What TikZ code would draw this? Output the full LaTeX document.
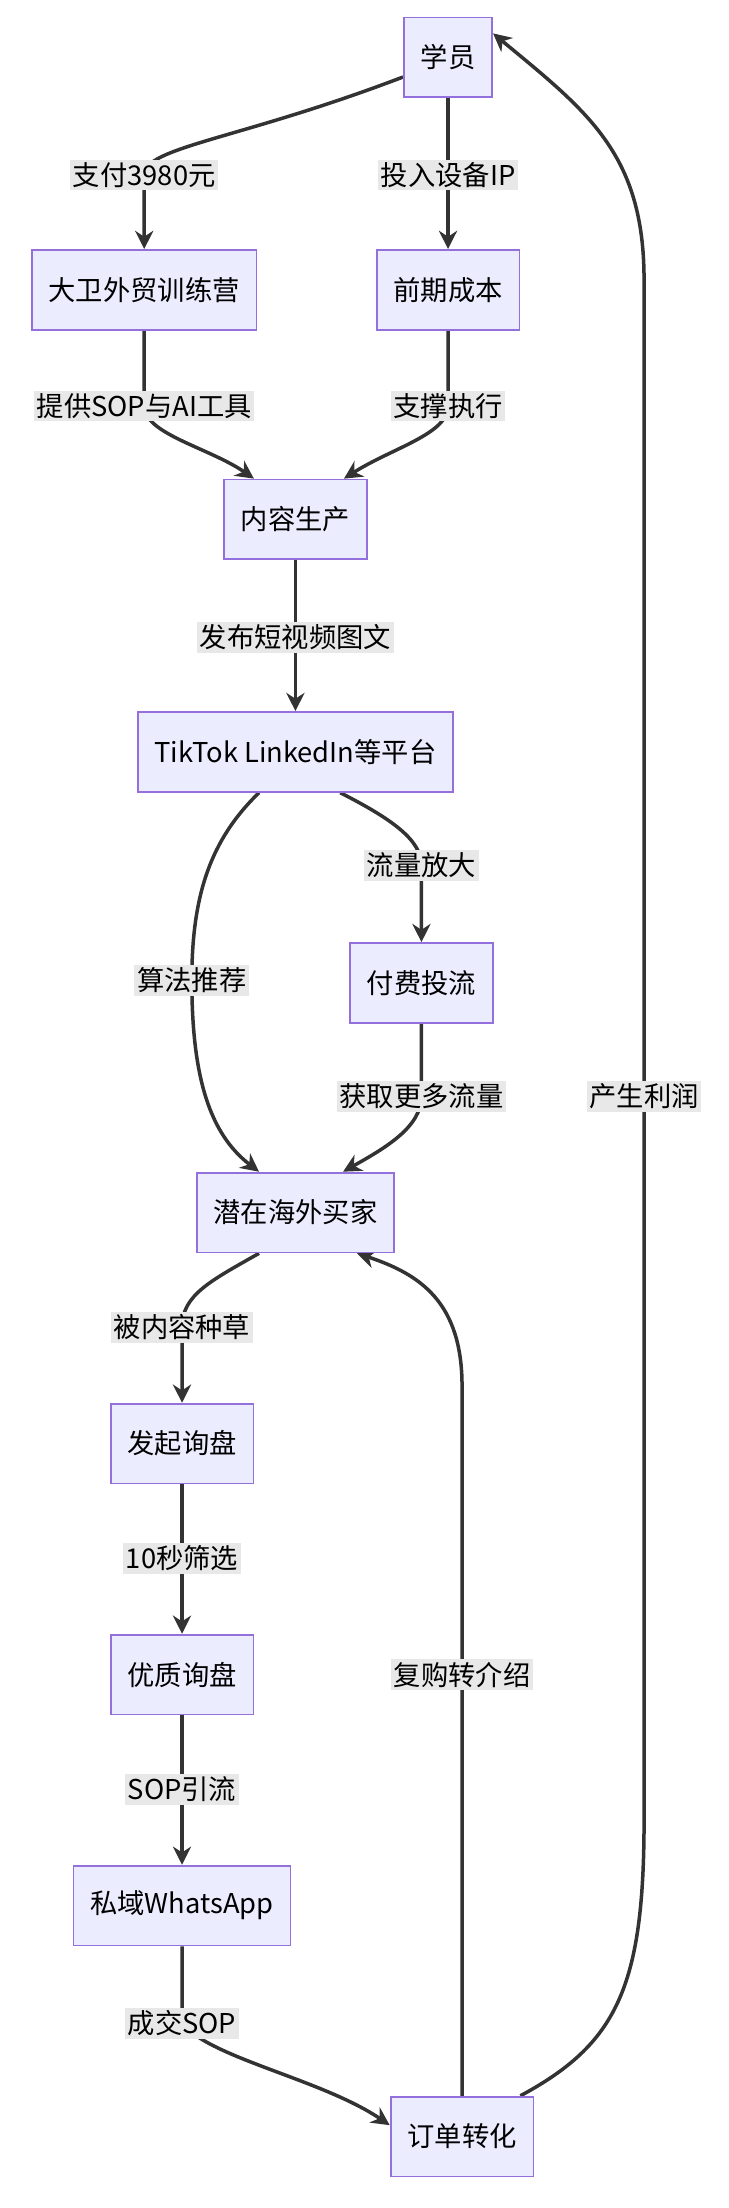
\documentclass[tikz,border=0pt]{standalone}
\usepackage{fontspec}
\setmainfont{Noto Sans CJK SC}
\usetikzlibrary{arrows.meta,backgrounds}
\definecolor{boxfill}{HTML}{ECECFF}
\definecolor{boxline}{HTML}{9370DB}
\definecolor{edgecol}{HTML}{333333}
\definecolor{lblfill}{HTML}{E8E8E8}
\tikzset{
  box/.style={draw=boxline,fill=boxfill,line width=1.3pt,minimum height=57pt,inner xsep=12pt,font=\fontsize{19.5}{22}\selectfont},
  lbl/.style={fill=lblfill,inner sep=2pt,font=\fontsize{19.5}{22}\selectfont},
  flow/.style={draw=edgecol,line width=2.5pt,-{Stealth[length=13pt,width=13pt]}}
}
\begin{document}
\begin{tikzpicture}[x=1pt,y=-1pt]
\useasboundingbox (0,0) rectangle (520,1577);

% boxes
\node[box] (xy) at (320,41) {学员};
\node[box] (dw) at (103,207) {大卫外贸训练营};
\node[box] (cb) at (320,207) {前期成本};
\node[box] (nr) at (211,371) {内容生产};
\node[box] (pt) at (211,537) {TikTok LinkedIn等平台};
\node[box] (ff) at (301,702) {付费投流};
\node[box] (mj) at (211,866) {潜在海外买家};
\node[box] (xp) at (130,1031) {发起询盘};
\node[box] (yz) at (130,1196) {优质询盘};
\node[box] (sy) at (130,1361) {私域WhatsApp};
\node[box] (dd) at (330,1526) {订单转化};

% labels
\node[lbl] (l1) at (103,125) {支付3980元};
\node[lbl] (l2) at (320,125) {投入设备IP};
\node[lbl] (l3) at (103,290) {提供SOP与AI工具};
\node[lbl] (l4) at (320,290) {支撑执行};
\node[lbl] (l5) at (211,455) {发布短视频图文};
\node[lbl] (l6) at (137,700) {算法推荐};
\node[lbl] (l7) at (301,618) {流量放大};
\node[lbl] (l8) at (301,783) {获取更多流量};
\node[lbl] (l9) at (130,948) {被内容种草};
\node[lbl] (l10) at (130,1113) {10秒筛选};
\node[lbl] (l11) at (130,1278) {SOP引流};
\node[lbl] (l12) at (130,1445) {成交SOP};
\node[lbl] (l13) at (330,1196) {复购转介绍};
\node[lbl] (l14) at (460,783) {产生利润};

% connectors
\begin{scope}[on background layer]
\draw[flow] ([yshift=-14pt]xy.west) .. controls (170,100) and (103,105) .. (l1.center) -- (dw);
\draw[flow] (xy) -- (l2.center) -- (cb);
\draw[flow] (dw) -- (l3.center) .. controls (103,310) and (150,320) .. ([xshift=22pt]nr.north west);
\draw[flow] (cb) -- (l4.center) .. controls (320,310) and (280,320) .. ([xshift=-17pt]nr.north east);
\draw[flow] (nr) -- (l5.center) -- (pt);
\draw[flow] ([xshift=-26pt]pt.south) .. controls (150,600) and (137,640) .. (l6.center) .. controls (137,770) and (150,810) .. ([xshift=-26pt]mj.north);
\draw[flow] ([xshift=32pt]pt.south) .. controls (280,585) and (301,600) .. (l7.center) -- (ff);
\draw[flow] (ff) -- (l8.center) .. controls (301,805) and (275,820) .. ([xshift=34pt]mj.north);
\draw[flow] ([xshift=-26pt]mj.south) .. controls (150,915) and (130,925) .. (l9.center) -- (xp);
\draw[flow] (xp) -- (l10.center) -- (yz);
\draw[flow] (yz) -- (l11.center) -- (sy);
\draw[flow] (sy) -- (l12.center) .. controls (150,1470) and (230,1485) .. ([yshift=-21pt]dd.north west);
\draw[flow] (dd) -- (l13.center) -- (330,990) .. controls (330,930) and (300,910) .. ([xshift=44pt]mj.south);
\draw[flow] ([xshift=-10pt]dd.north east) .. controls (440,1460) and (460,1420) .. (460,1300) -- (l14.center) -- (460,200) .. controls (460,110) and (420,80) .. ([yshift=-12pt]xy.north east);
\end{scope}
\end{tikzpicture}
\end{document}
